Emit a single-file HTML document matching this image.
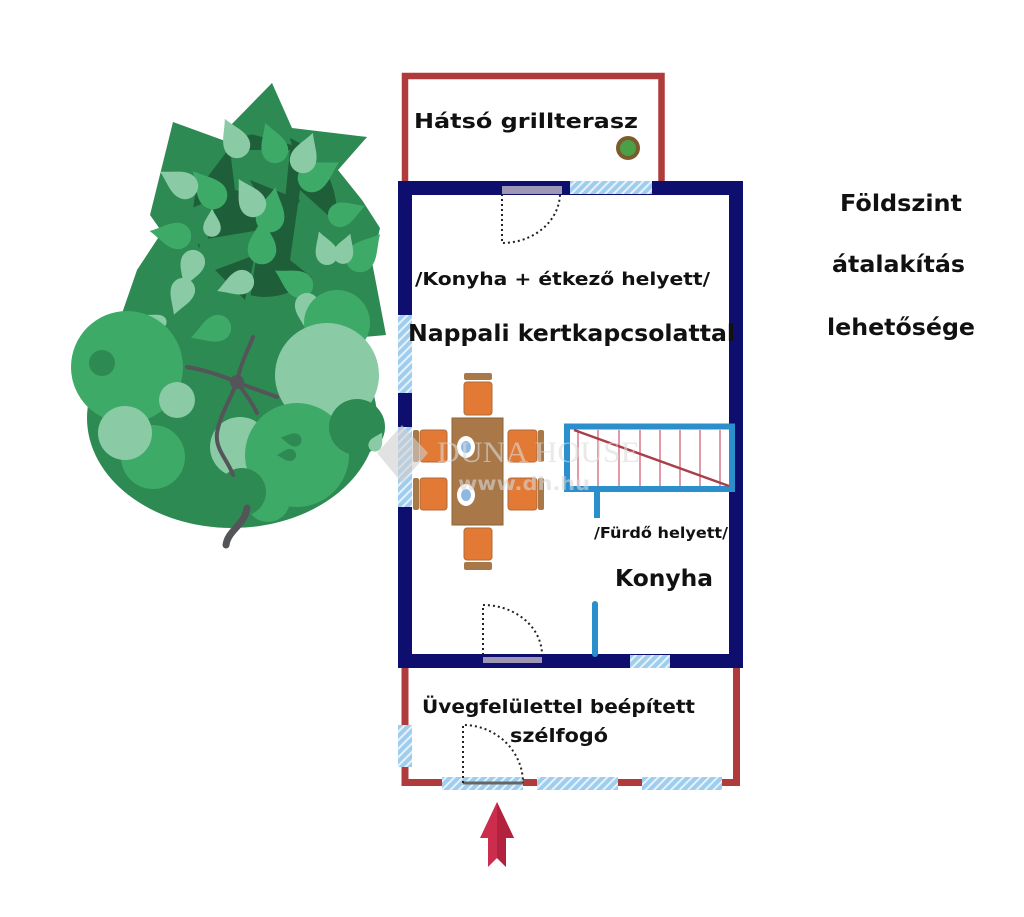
<!DOCTYPE html>
<html><head><meta charset="utf-8"><style>
html,body{margin:0;padding:0;background:#fff;}
svg{display:block;}
text{font-family:"DejaVu Sans","Liberation Sans",sans-serif;font-weight:bold;fill:#111;}
</style></head><body>
<svg width="1024" height="917" viewBox="0 0 1024 917" xmlns="http://www.w3.org/2000/svg">
<defs>
<pattern id="h" width="6" height="6" patternUnits="userSpaceOnUse" patternTransform="rotate(45)">
<rect width="6" height="6" fill="#9fcdee"/><rect x="0" y="0" width="2" height="6" fill="#e6f2fb"/>
</pattern>
<path id="lf" d="M0,-24 C5,-14 11,-8 11,0 A11,11 0 0 1 -11,0 C-11,-8 -5,-14 0,-24Z"/>
</defs>
<rect width="1024" height="917" fill="#fff"/>

<!-- TREE -->
<g>
<ellipse cx="232" cy="418" rx="145" ry="110" fill="#2d8a52"/>
<polygon points="137,270 162,232 150,215 173,122 228,142 272,83 292,128 367,137 338,170 362,200 380,228 372,262 386,335 330,340 118,325" fill="#2d8a52"/>
<ellipse cx="265" cy="215" rx="72" ry="82" fill="#1e5e39"/>
<polygon points="228,128 272,83 292,145" fill="#2d8a52"/>
<polygon points="173,122 228,150 196,192" fill="#2d8a52"/>
<polygon points="367,137 298,133 318,188" fill="#2d8a52"/>
<polygon points="137,270 192,232 202,290" fill="#2d8a52"/>
<polygon points="158,222 216,198 206,248" fill="#2d8a52"/>
<polygon points="300,190 372,255 340,300 290,260" fill="#2d8a52"/>
<polygon points="200,240 260,230 250,300 195,300" fill="#2d8a52"/>
<polygon points="230,150 290,150 285,200 235,190" fill="#2d8a52"/>
<polygon points="155,300 210,290 250,320 170,330" fill="#2d8a52"/>
<polygon points="250,180 300,200 280,240" fill="#1e5e39"/>
<polygon points="215,270 255,255 245,300" fill="#1e5e39"/>
<!-- mid leaves -->
<use href="#lf" transform="translate(213,195) rotate(-40) scale(1.3)" fill="#3eaa68"/>
<use href="#lf" transform="translate(270,218) rotate(10) scale(1.3)" fill="#3eaa68"/>
<use href="#lf" transform="translate(312,178) rotate(60) scale(1.3)" fill="#3eaa68"/>
<use href="#lf" transform="translate(262,250) rotate(0) scale(1.3)" fill="#3eaa68"/>
<use href="#lf" transform="translate(178,236) rotate(-80) scale(1.2)" fill="#3eaa68"/>
<use href="#lf" transform="translate(360,258) rotate(40) scale(1.3)" fill="#3eaa68"/>
<use href="#lf" transform="translate(218,328) rotate(-110) scale(1.2)" fill="#3eaa68"/>
<use href="#lf" transform="translate(300,285) rotate(-60) scale(1.2)" fill="#3eaa68"/>
<use href="#lf" transform="translate(275,150) rotate(-20) scale(1.2)" fill="#3eaa68"/>
<use href="#lf" transform="translate(340,215) rotate(70) scale(1.1)" fill="#3eaa68"/>
<!-- light leaves -->
<use href="#lf" transform="translate(237,145) rotate(-25) scale(1.2)" fill="#8acba6"/>
<use href="#lf" transform="translate(303,160) rotate(20) scale(1.2)" fill="#8acba6"/>
<use href="#lf" transform="translate(185,186) rotate(-60) scale(1.2)" fill="#8acba6"/>
<use href="#lf" transform="translate(253,204) rotate(-30) scale(1.2)" fill="#8acba6"/>
<use href="#lf" transform="translate(212,228) rotate(0) scale(0.8)" fill="#8acba6"/>
<use href="#lf" transform="translate(193,262) rotate(200) scale(1.1)" fill="#8acba6"/>
<use href="#lf" transform="translate(242,282) rotate(-110) scale(1.1)" fill="#8acba6"/>
<use href="#lf" transform="translate(327,254) rotate(-20) scale(1)" fill="#8acba6"/>
<use href="#lf" transform="translate(343,254) rotate(20) scale(0.9)" fill="#8acba6"/>
<use href="#lf" transform="translate(183,290) rotate(200) scale(1.1)" fill="#8acba6"/>
<use href="#lf" transform="translate(307,305) rotate(180) scale(1.1)" fill="#8acba6"/>
<use href="#lf" transform="translate(160,322) rotate(-60) scale(0.6)" fill="#8acba6"/>
<!-- lower circles -->
<circle cx="127" cy="367" r="56" fill="#3eaa68"/>
<circle cx="102" cy="363" r="13" fill="#2d8a52"/>
<circle cx="177" cy="400" r="18" fill="#8acba6"/>
<circle cx="153" cy="457" r="32" fill="#3eaa68"/>
<circle cx="125" cy="433" r="27" fill="#8acba6"/>
<circle cx="337" cy="323" r="33" fill="#3eaa68"/>
<circle cx="327" cy="375" r="52" fill="#8acba6"/>
<circle cx="240" cy="447" r="30" fill="#8acba6"/>
<circle cx="297" cy="455" r="52" fill="#3eaa68"/>
<circle cx="357" cy="427" r="28" fill="#2d8a52"/>
<circle cx="268" cy="500" r="22" fill="#3eaa68"/>
<circle cx="242" cy="492" r="24" fill="#2d8a52"/>
<use href="#lf" transform="translate(375,445) rotate(30) scale(0.6)" fill="#8acba6"/>
<use href="#lf" transform="translate(295,440) rotate(-80) scale(0.6)" fill="#2d8a52"/>
<use href="#lf" transform="translate(290,455) rotate(-90) scale(0.55)" fill="#2d8a52"/>
<!-- trunk -->
<g fill="none" stroke="#545558" stroke-linecap="round">
<path d="M247,508 C245,525 228,530 226,545" stroke-width="7"/>
<path d="M237,382 C240,365 248,350 253,337" stroke-width="4"/>
<path d="M237,382 C220,375 205,370 187,367" stroke-width="4"/>
<path d="M237,382 C250,388 265,392 277,397" stroke-width="4"/>
<path d="M237,382 C244,392 252,402 257,413" stroke-width="4"/>
<path d="M237,382 C230,400 220,415 217,433 C215,450 228,460 233,475" stroke-width="4"/>
</g>
<circle cx="237" cy="382" r="7" fill="#545558"/>
</g>

<!-- red terrace -->
<path d="M405,182 L405,76 L661.5,76 L661.5,182" fill="none" stroke="#b03b3c" stroke-width="6.5"/>
<circle cx="628" cy="148" r="12" fill="#7b5b2e"/>
<circle cx="628" cy="148" r="8" fill="#4aa047"/>
<!-- red entrance -->
<path d="M405,668 L405,782.5 L736.5,782.5 L736.5,668" fill="none" stroke="#b03b3c" stroke-width="7"/>

<!-- main walls -->
<rect x="405" y="188" width="331" height="473" fill="none" stroke="#0e0e6e" stroke-width="14"/>

<!-- top door + window -->
<rect x="502" y="186" width="60" height="8" fill="#9d96b4"/>
<rect x="570" y="181" width="82" height="13" fill="url(#h)"/>
<path d="M502,194 L502,243 A58,50 0 0 0 560,194" fill="none" stroke="#222" stroke-width="2" stroke-dasharray="2,3"/>
<!-- left windows -->
<rect x="398" y="315" width="14" height="78" fill="url(#h)"/>
<rect x="398" y="427" width="14" height="80" fill="url(#h)"/>

<!-- stairs -->
<rect x="567" y="426.5" width="165" height="62.5" fill="#fff" stroke="#2a8fcc" stroke-width="6"/>
<g stroke="#d87888" stroke-width="1.5">
<line x1="578" y1="430" x2="578" y2="486"/><line x1="598" y1="430" x2="598" y2="486"/>
<line x1="619" y1="430" x2="619" y2="486"/><line x1="640" y1="430" x2="640" y2="486"/>
<line x1="660" y1="430" x2="660" y2="486"/><line x1="680" y1="430" x2="680" y2="486"/>
<line x1="700" y1="430" x2="700" y2="486"/><line x1="720" y1="430" x2="720" y2="486"/>
</g>
<line x1="574" y1="430" x2="729" y2="486" stroke="#a8404c" stroke-width="2.5"/>
<rect x="594" y="489" width="6" height="29" fill="#2a8fcc"/>
<rect x="592" y="601" width="6" height="56" rx="3" fill="#2a8fcc"/>

<!-- bottom door + window -->
<rect x="483" y="657" width="59" height="6" fill="#9d96b4"/>
<rect x="630" y="655" width="40" height="13" fill="url(#h)"/>
<path d="M483,655 L483,605 A59,50 0 0 1 542,655" fill="none" stroke="#222" stroke-width="2" stroke-dasharray="2,3"/>

<!-- entrance windows -->
<rect x="398" y="725" width="14" height="42" fill="url(#h)"/>
<rect x="442" y="777" width="81" height="13" fill="url(#h)"/>
<rect x="537" y="777" width="81" height="13" fill="url(#h)"/>
<rect x="642" y="777" width="80" height="13" fill="url(#h)"/>
<line x1="463" y1="783" x2="523" y2="783" stroke="#666" stroke-width="3"/>
<path d="M463,783 L463,725 A60,58 0 0 1 523,783" fill="none" stroke="#222" stroke-width="2" stroke-dasharray="2,3"/>

<!-- arrow -->
<polygon points="497,802 514,838 506,838 506,867 497,858 488,867 488,838 480,838" fill="#cc2d4c"/>
<polygon points="497,802 514,838 506,838 506,867 497,858" fill="#b2213e"/>

<!-- table & chairs -->
<g stroke="#b06a3a" stroke-width="1">
<rect x="464" y="382" width="28" height="33" rx="3" fill="#e27a35"/>
<rect x="464" y="528" width="28" height="32" rx="3" fill="#e27a35"/>
<rect x="420" y="430" width="27" height="32" rx="3" fill="#e27a35"/>
<rect x="420" y="478" width="27" height="32" rx="3" fill="#e27a35"/>
<rect x="508" y="430" width="29" height="32" rx="3" fill="#e27a35"/>
<rect x="508" y="478" width="29" height="32" rx="3" fill="#e27a35"/>
</g>
<g fill="#a87848">
<rect x="464" y="373" width="28" height="7" rx="2"/>
<rect x="464" y="562" width="28" height="8" rx="2"/>
<rect x="413" y="430" width="6" height="32" rx="2"/>
<rect x="413" y="478" width="6" height="32" rx="2"/>
<rect x="538" y="430" width="6" height="32" rx="2"/>
<rect x="538" y="478" width="6" height="32" rx="2"/>
</g>
<rect x="452" y="418" width="51" height="107" fill="#a87848" stroke="#8c6238" stroke-width="1"/>
<ellipse cx="466" cy="447" rx="9" ry="11" fill="#fff"/>
<ellipse cx="466" cy="447" rx="5" ry="6" fill="#8fb8e0"/>
<ellipse cx="466" cy="495" rx="9" ry="11" fill="#fff"/>
<ellipse cx="466" cy="495" rx="5" ry="6" fill="#8fb8e0"/>

<!-- watermark -->
<g opacity="0.6">
<polygon points="402,425 428,453 402,483 377,453" fill="#d0d0d0"/>
<text x="437" y="462" textLength="203" lengthAdjust="spacingAndGlyphs" style="font-family:'Liberation Serif',serif;font-weight:normal;font-size:30px;fill:#dcdcdc">DUNA HOUSE</text>
<text x="458" y="490" textLength="132" lengthAdjust="spacingAndGlyphs" style="font-size:19px;fill:#d8d8d8">www.dh.hu</text>
</g>

<!-- labels -->
<text x="414" y="128" font-size="20" textLength="224" lengthAdjust="spacingAndGlyphs">Hátsó grillterasz</text>
<text x="415" y="285" font-size="17.5" textLength="295" lengthAdjust="spacingAndGlyphs">/Konyha + étkező helyett/</text>
<text x="408" y="341" font-size="23" textLength="327" lengthAdjust="spacingAndGlyphs">Nappali kertkapcsolattal</text>
<text x="594" y="538" font-size="15.5" textLength="134" lengthAdjust="spacingAndGlyphs">/Fürdő helyett/</text>
<text x="615" y="586" font-size="23" textLength="98" lengthAdjust="spacingAndGlyphs">Konyha</text>
<text x="422" y="713" font-size="19" textLength="273" lengthAdjust="spacingAndGlyphs">Üvegfelülettel beépített</text>
<text x="510" y="742" font-size="19" textLength="98" lengthAdjust="spacingAndGlyphs">szélfogó</text>
<text x="840" y="211" font-size="23" textLength="122" lengthAdjust="spacingAndGlyphs">Földszint</text>
<text x="832" y="272" font-size="23" textLength="133" lengthAdjust="spacingAndGlyphs">átalakítás</text>
<text x="827" y="335" font-size="23" textLength="148" lengthAdjust="spacingAndGlyphs">lehetősége</text>
</svg>
</body></html>
